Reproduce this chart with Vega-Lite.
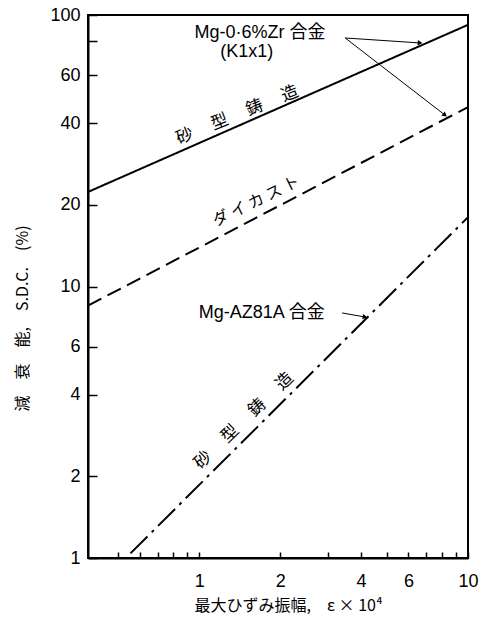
{
  "$schema": "https://vega.github.io/schema/vega-lite/v6.json",
  "width": 380,
  "height": 543,
  "autosize": "none",
  "padding": {"left": 88, "top": 15, "right": 19, "bottom": 59},
  "background": "white",
  "config": {
    "view": {"stroke": "black", "strokeWidth": 2},
    "font": "Liberation Sans",
    "axis": {
      "grid": false,
      "domainColor": "black",
      "domainWidth": 2,
      "tickColor": "black",
      "tickWidth": 1.5,
      "labelColor": "black",
      "titleColor": "black",
      "labelFont": "Liberation Sans",
      "labelFontSize": 18,
      "labelOverlap": false,
      "labelFlush": false,
      "titleFont": "Noto Sans CJK JP",
      "titleFontWeight": "normal",
      "titleFontSize": 16
    }
  },
  "datasets": {
    "lines": [
      {"series": "sand_zr", "x": 0.385, "y": 22.3},
      {"series": "sand_zr", "x": 10, "y": 92},
      {"series": "die", "x": 0.385, "y": 8.5},
      {"series": "die", "x": 10, "y": 45.8},
      {"series": "sand_az", "x": 0.554, "y": 1.04},
      {"series": "sand_az", "x": 10, "y": 18}
    ],
    "arrows": [
      {"id": "a1", "x0": 3.49, "y0": 82.3, "x1": 6.63, "y1": 78.9},
      {"id": "a2", "x0": 3.49, "y0": 82.3, "x1": 8.21, "y1": 42.8},
      {"id": "a3", "x0": 3.40, "y0": 7.99, "x1": 4.14, "y1": 7.72}
    ],
    "flat": [
      {"t": "Mg-0·6%Zr  合金", "x": 1.68, "y": 85.9},
      {"t": "(K1x1)", "x": 1.50, "y": 73.1},
      {"t": "Mg-AZ81A  合金", "x": 1.707, "y": 7.99}
    ],
    "sand1": [{"t": "砂　 型　 鋳　 造", "x": 1.384, "y": 42.8}],
    "die": [{"t": "ダ イ カ ス ト", "x": 1.629, "y": 20.6}],
    "sand2": [{"t": "砂　 型　 鋳　 造", "x": 1.464, "y": 3.197}]
  },
  "layer": [
    {
      "data": {"name": "lines"},
      "mark": {"type": "line", "color": "black", "strokeWidth": 2, "clip": true},
      "encoding": {
        "x": {
          "field": "x", "type": "quantitative",
          "scale": {"type": "log", "domain": [0.385, 10], "nice": false},
          "axis": {
            "values": [0.5, 0.6, 0.7, 0.8, 0.9, 1, 2, 3, 4, 5, 6, 7, 8, 9, 10],
            "labelExpr": "(datum.value==1||datum.value==2||datum.value==4||datum.value==6||datum.value==10) ? ('' + datum.value) : ''",
            "tickSize": -6,
            "labelPadding": 20,
            "title": "最大ひずみ振幅,　ε × 10⁴",
            "titleX": 200,
            "titleY": 47,
            "titleBaseline": "middle"
          }
        },
        "y": {
          "field": "y", "type": "quantitative",
          "scale": {"type": "log", "domain": [1, 100], "nice": false},
          "axis": {
            "values": [1, 2, 4, 6, 10, 20, 40, 60, 80, 100],
            "labelExpr": "datum.value==80 ? '' : ('' + datum.value)",
            "tickSize": -9,
            "labelPadding": 17,
            "title": "減　衰　能,　S.D.C.　(%)",
            "titleX": -66,
            "titleY": 303,
            "titleBaseline": "middle"
          }
        },
        "detail": {"field": "series"},
        "strokeDash": {
          "field": "series", "type": "nominal",
          "scale": {"domain": ["sand_zr", "die", "sand_az"], "range": [[1, 0], [15, 7], [24, 6, 3, 6]]},
          "legend": null
        }
      }
    },
    {
      "data": {"name": "arrows"},
      "mark": {"type": "rule", "color": "black", "strokeWidth": 1},
      "encoding": {
        "x": {"field": "x0", "type": "quantitative"},
        "y": {"field": "y0", "type": "quantitative"},
        "x2": {"field": "x1"},
        "y2": {"field": "y1"}
      }
    },
    {
      "data": {"name": "arrows"},
      "transform": [{"filter": "datum.id == 'a1'"}],
      "mark": {"type": "point", "shape": "triangle-right", "filled": true, "color": "black", "size": 30, "angle": 4, "opacity": 1},
      "encoding": {
        "x": {"field": "x1", "type": "quantitative"},
        "y": {"field": "y1", "type": "quantitative"}
      }
    },
    {
      "data": {"name": "arrows"},
      "transform": [{"filter": "datum.id == 'a2'"}],
      "mark": {"type": "point", "shape": "triangle-right", "filled": true, "color": "black", "size": 30, "angle": 38, "opacity": 1},
      "encoding": {
        "x": {"field": "x1", "type": "quantitative"},
        "y": {"field": "y1", "type": "quantitative"}
      }
    },
    {
      "data": {"name": "arrows"},
      "transform": [{"filter": "datum.id == 'a3'"}],
      "mark": {"type": "point", "shape": "triangle-right", "filled": true, "color": "black", "size": 30, "angle": 10, "opacity": 1},
      "encoding": {
        "x": {"field": "x1", "type": "quantitative"},
        "y": {"field": "y1", "type": "quantitative"}
      }
    },
    {
      "data": {"name": "flat"},
      "mark": {"type": "text", "font": "Liberation Sans, Noto Sans CJK JP", "fontSize": 18, "color": "black", "align": "center", "baseline": "middle"},
      "encoding": {
        "x": {"field": "x", "type": "quantitative"},
        "y": {"field": "y", "type": "quantitative"},
        "text": {"field": "t"}
      }
    },
    {
      "data": {"name": "sand1"},
      "mark": {"type": "text", "font": "Noto Sans CJK JP", "fontSize": 17, "color": "black", "align": "center", "baseline": "middle", "angle": -22},
      "encoding": {
        "x": {"field": "x", "type": "quantitative"},
        "y": {"field": "y", "type": "quantitative"},
        "text": {"field": "t"}
      }
    },
    {
      "data": {"name": "die"},
      "mark": {"type": "text", "font": "Noto Sans CJK JP", "fontSize": 16, "color": "black", "align": "center", "baseline": "middle", "angle": -26},
      "encoding": {
        "x": {"field": "x", "type": "quantitative"},
        "y": {"field": "y", "type": "quantitative"},
        "text": {"field": "t"}
      }
    },
    {
      "data": {"name": "sand2"},
      "mark": {"type": "text", "font": "Noto Sans CJK JP", "fontSize": 17, "color": "black", "align": "center", "baseline": "middle", "angle": -44},
      "encoding": {
        "x": {"field": "x", "type": "quantitative"},
        "y": {"field": "y", "type": "quantitative"},
        "text": {"field": "t"}
      }
    }
  ]
}
